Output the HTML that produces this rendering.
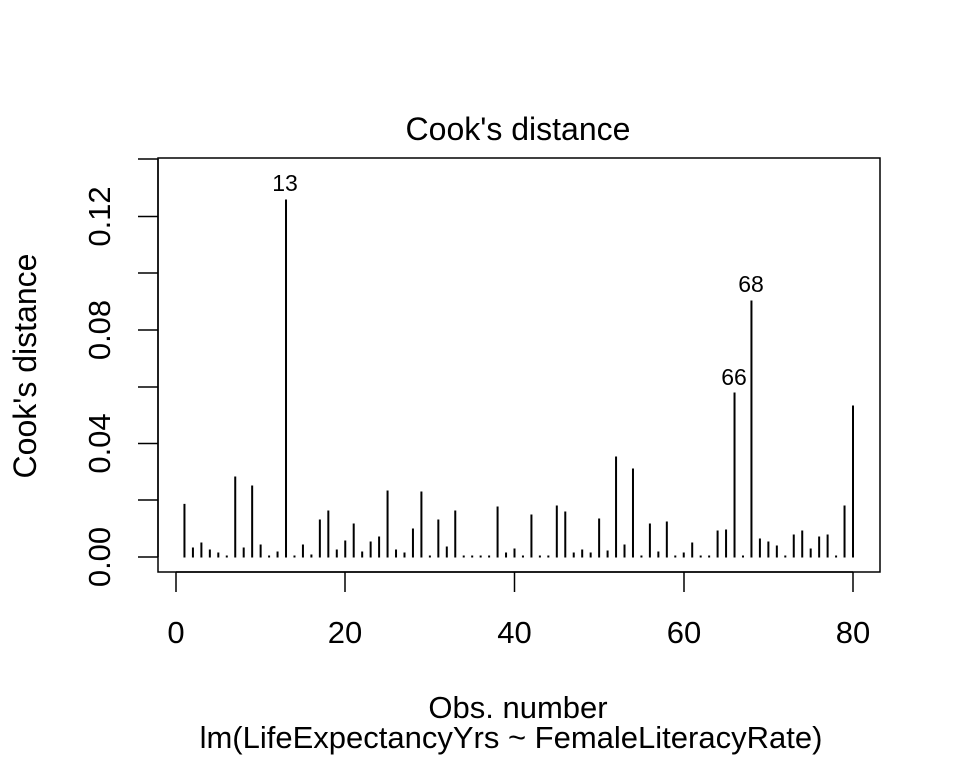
<!DOCTYPE html>
<html><head><style>body{margin:0;background:#fff}svg{display:block}</style></head><body>
<svg width="960" height="768" xmlns="http://www.w3.org/2000/svg" font-family="Liberation Sans, Arial, sans-serif" fill="#000">
<rect x="158" y="158" width="722" height="414" fill="none" stroke="#000" stroke-width="1.5"/>
<g stroke="#000" stroke-width="1.5">
<line x1="158" y1="159" x2="158" y2="557"/>
<line x1="138" y1="557" x2="158" y2="557"/><line x1="138" y1="500" x2="158" y2="500"/>
<line x1="138" y1="443.5" x2="158" y2="443.5"/><line x1="138" y1="387" x2="158" y2="387"/>
<line x1="138" y1="330" x2="158" y2="330"/><line x1="138" y1="273" x2="158" y2="273"/>
<line x1="138" y1="216.5" x2="158" y2="216.5"/><line x1="138" y1="159" x2="158" y2="159"/>
<line x1="176" y1="572" x2="853" y2="572"/>
<line x1="176" y1="572" x2="176" y2="592"/><line x1="345" y1="572" x2="345" y2="592"/>
<line x1="514.5" y1="572" x2="514.5" y2="592"/><line x1="684" y1="572" x2="684" y2="592"/>
<line x1="853" y1="572" x2="853" y2="592"/>
</g>
<g font-size="31" text-anchor="middle">
<text x="176" y="643">0</text><text x="345" y="643">20</text><text x="514.5" y="643">40</text><text x="684" y="643">60</text><text x="853" y="643">80</text>
<g transform="translate(110,0)">
<text transform="translate(0,557) rotate(-90)">0.00</text>
<text transform="translate(0,443.5) rotate(-90)">0.04</text>
<text transform="translate(0,330) rotate(-90)">0.08</text>
<text transform="translate(0,216.5) rotate(-90)">0.12</text>
</g>
<text x="518" y="140" font-size="32">Cook's distance</text>
<text x="518" y="718">Obs. number</text>
<text x="511" y="748">lm(LifeExpectancyYrs ~ FemaleLiteracyRate)</text>
<text transform="translate(36,366) rotate(-90)" font-size="32">Cook's distance</text>
</g>
<g font-size="23" text-anchor="middle">
<text x="285" y="191">13</text><text x="734" y="385">66</text><text x="751" y="292">68</text>
</g>
<path stroke="#000" stroke-width="2" fill="none" d="
M184.46 557.5V503.9M192.93 557.5V547.5M201.39 557.5V542.5M209.85 557.5V549.5M218.31 557.5V552.5
M226.78 557.5V555.5M235.24 557.5V476.5M243.70 557.5V547.5M252.16 557.5V485.5M260.63 557.5V544.5
M269.09 557.5V555.5M277.55 557.5V551.5M286.01 557.5V199.5M294.48 557.5V555.5M302.94 557.5V544.5
M311.40 557.5V554.5M319.86 557.5V519.5M328.33 557.5V510.5M336.79 557.5V549.5M345.25 557.5V540.5
M353.71 557.5V523.5M362.18 557.5V551.5M370.64 557.5V541.5M379.10 557.5V536.5M387.56 557.5V490.5
M396.03 557.5V549.5M404.49 557.5V552.5M412.95 557.5V528.5M421.41 557.5V491.5M429.88 557.5V555.5
M438.34 557.5V519.5M446.80 557.5V546.5M455.26 557.5V510.5M463.73 557.5V555.5M472.19 557.5V555.5
M480.65 557.5V555.5M489.11 557.5V555.5M497.58 557.5V506.5M506.04 557.5V552.5M514.50 557.5V548.5
M522.96 557.5V555.5M531.43 557.5V514.5M539.89 557.5V555.5M548.35 557.5V555.5M556.81 557.5V505.5
M565.28 557.5V511.5M573.74 557.5V552.5M582.20 557.5V549.5M590.66 557.5V552.5M599.13 557.5V518.5
M607.59 557.5V550.5M616.05 557.5V456.5M624.51 557.5V544.5M632.98 557.5V468.5M641.44 557.5V555.5
M649.90 557.5V523.5M658.36 557.5V551.5M666.83 557.5V521.5M675.29 557.5V555.5M683.75 557.5V552.5
M692.21 557.5V542.5M700.68 557.5V555.5M709.14 557.5V555.5M717.60 557.5V530.5M726.06 557.5V529.5
M734.53 557.5V392.5M742.99 557.5V555.5M751.45 557.5V300.5M759.91 557.5V538.5M768.38 557.5V541.5
M776.84 557.5V545.5M785.30 557.5V555.5M793.76 557.5V534.5M802.23 557.5V530.5M810.69 557.5V548.5
M819.15 557.5V536.5M827.61 557.5V534.5M836.08 557.5V555.5M844.54 557.5V505.5M853.00 557.5V405.5"/>
</svg>
</body></html>
